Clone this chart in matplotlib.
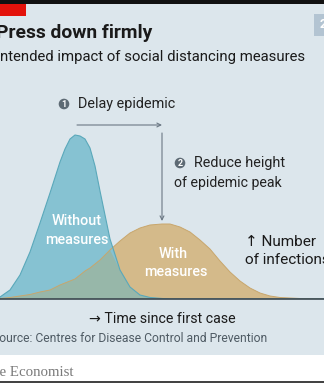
"""Press down firmly - intended impact of social distancing measures."""
import matplotlib

matplotlib.use("Agg")
import matplotlib.pyplot as plt
import numpy as np
from matplotlib.patches import Rectangle, Circle

plt.rcParams["font.family"] = ["Roboto", "DejaVu Sans"]

# ---- data (curve heights, px above baseline) ----
time = [0, 10, 20, 30, 40, 50, 60, 65, 70, 75, 80, 85, 90, 95, 100, 110, 120,
        130, 140, 150, 162, 170, 180, 190, 200, 210, 220, 230, 240, 250, 260,
        270, 280, 290, 300, 310, 324]
without_measures = [2, 9, 24, 47, 76, 106, 137, 150, 160, 164, 163, 160, 151,
                    133, 108, 60, 29, 12, 4, 1.5, 0.5, 0, 0, 0, 0, 0, 0, 0, 0,
                    0, 0, 0, 0, 0, 0, 0, 0]
with_measures = [0.5, 1.5, 3, 4.5, 7, 9, 14, 16, 18, 20, 24, 28, 31, 35, 39, 49,
                 58, 66, 71, 74, 75, 75, 72, 67, 59, 50, 38, 27, 18, 11, 6, 3,
                 1.5, 1, 0.5, 0.3, 0]

BG = "#dce6ec"
BLUE, BLUE_EDGE = "#86c2d2", "#5aa8ba"
ORANGE, ORANGE_EDGE = "#d4ba8a", "#c8a66c"
OVERLAP = "#97b7a9"
GREY = "#5d6a74"
INK = "#1a1a1a"

W, H = 324, 383
fig = plt.figure(figsize=(W / 100, H / 100), dpi=100, facecolor=BG)

# chart axes: baseline at y=299px, top at y=125px
base_px, top_px = 299, 125
ax = fig.add_axes([0, (H - base_px) / H, 1, (base_px - top_px) / H])
ax.set_xlim(0, 324)
ax.set_ylim(0, base_px - top_px)
ax.axis("off")

t = np.array(time)
b = np.array(without_measures)
o = np.array(with_measures)
ax.fill_between(t, 0, o, color=ORANGE, lw=0)
ax.fill_between(t, 0, b, color=BLUE, lw=0)
ax.fill_between(t, 0, np.minimum(b, o), color=OVERLAP, lw=0)
ax.plot(t, o, color=ORANGE_EDGE, lw=0.7)
ax.plot(t, b, color=BLUE_EDGE, lw=0.8)
ax.axhline(0, color="#3c4850", lw=1.2, clip_on=False)

# arrows tied to the peaks
tb, to = t[np.argmax(b)], t[np.argmax(o)]
ax.annotate("", xy=(to, 174), xytext=(tb + 2, 174),
            arrowprops=dict(arrowstyle="->", color="#6b7884", lw=0.8,
                            mutation_scale=7, shrinkA=0, shrinkB=0),
            annotation_clip=False)
ax.annotate("", xy=(to, o.max() + 3), xytext=(to, 166),
            arrowprops=dict(arrowstyle="->", color="#6b7884", lw=0.8,
                            mutation_scale=7, shrinkA=0, shrinkB=0))

# overlay axes in pixel coordinates for the furniture
ov = fig.add_axes([0, 0, 1, 1], facecolor="none")
ov.set_xlim(0, W)
ov.set_ylim(H, 0)
ov.axis("off")

ov.add_patch(Rectangle((0, 0), W, 4, color="#111111", lw=0))
ov.add_patch(Rectangle((0, 4), 26, 11.5, color="#e3120b", lw=0))
ov.add_patch(Rectangle((314, 14), 12, 22, color="#b3c4d2", lw=0))
ov.text(320, 25, "2", color="white", fontsize=9, fontweight="bold", va="center")

ov.text(-4, 38, "Press down firmly", fontsize=13.9, fontweight="bold",
        color=INK, va="baseline")
ov.text(-3.5, 61, "Intended impact of social distancing measures",
        fontsize=10.7, color=INK, va="baseline")

for num, cx, cy in [("1", 64, 104), ("2", 180, 163)]:
    ov.add_patch(Circle((cx, cy), 5.3, color=GREY, lw=0))
    ov.text(cx, cy + 0.3, num, color="white", fontsize=6.5, fontweight="bold",
            ha="center", va="center")
ov.text(78, 104, "Delay epidemic", fontsize=10.4, color="#222222", va="center")
ov.text(194, 163, "Reduce height", fontsize=10.4, color="#222222", va="center")
ov.text(174, 183, "of epidemic peak", fontsize=10.2, color="#222222", va="center")

for txt, x, y in [("Without", 77, 221), ("measures", 77, 240),
                  ("With", 173, 254), ("measures", 176, 272)]:
    ov.text(x, y, txt, fontsize=10.4, fontweight="medium", color="white",
            ha="center", va="center")

ov.text(245, 242, "\u2191 Number", fontsize=11, color=INK, va="center")
ov.text(245, 260, "of infections", fontsize=11, color=INK, va="center")

ov.text(162, 319, "\u2192 Time since first case", fontsize=10.2,
        color=INK, ha="center", va="center")
ov.text(-7.5, 338, "Source: Centres for Disease Control and Prevention",
        fontsize=8.7, color="#4f5b64", va="center")

ov.add_patch(Rectangle((0, 355), W, 28, color="white", lw=0))
ov.add_patch(Rectangle((0, 381), W, 2, color="#444444", lw=0))
ov.text(-17, 372, "The Economist", family=["Liberation Serif", "DejaVu Serif"],
        fontsize=10.7, color="#7a7a7a", va="center")

fig.savefig("out.png", dpi=100, facecolor=BG)
